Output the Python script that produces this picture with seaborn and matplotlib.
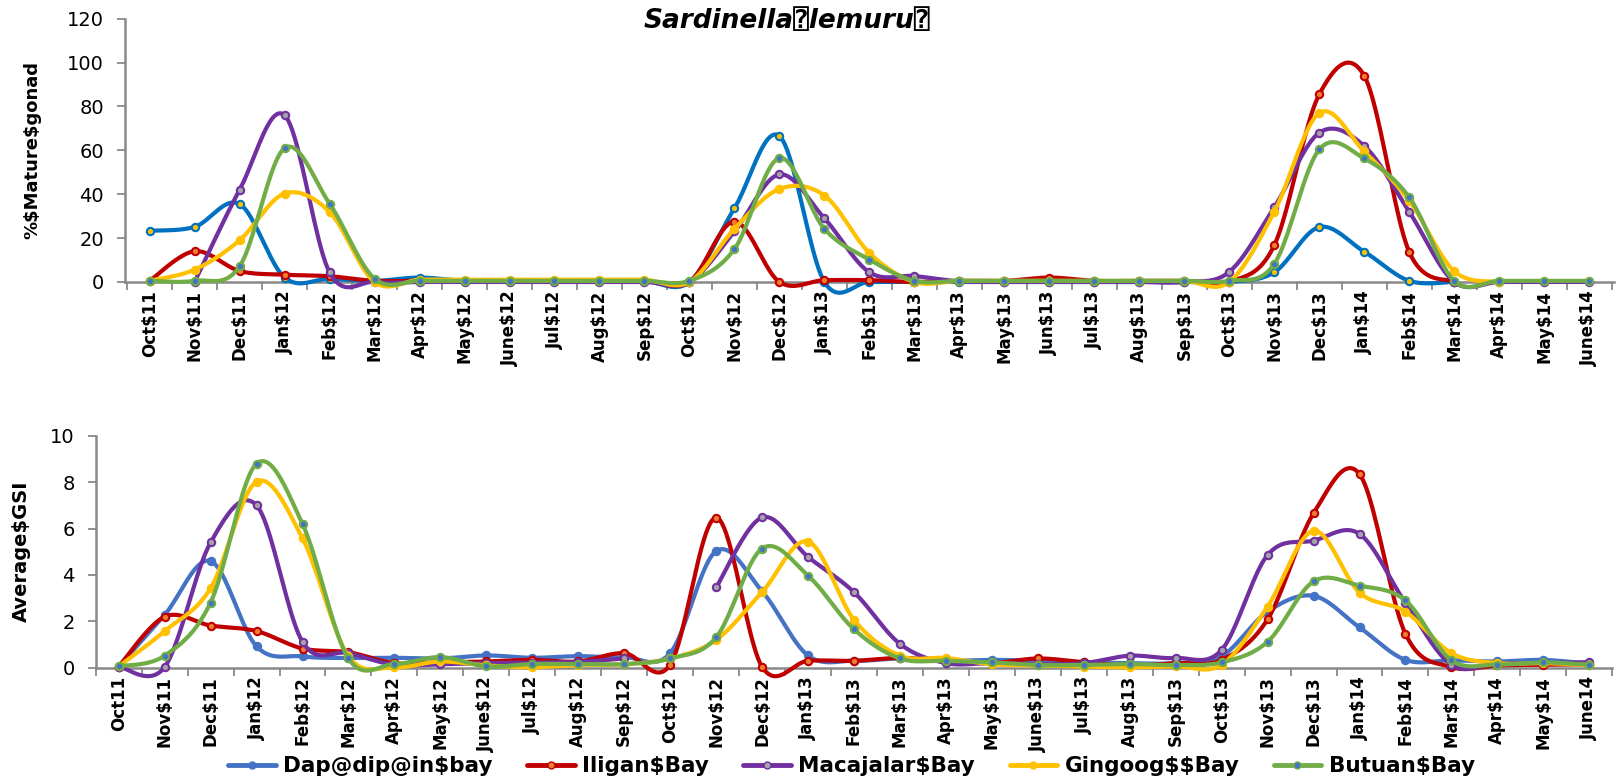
import numpy as np
import pandas as pd
import matplotlib
matplotlib.use("Agg")
import matplotlib.pyplot as plt
import seaborn as sns
from matplotlib.lines import Line2D

nan = np.nan

# ---------------- data ----------------
top_labels = ["Oct$11", "Nov$11", "Dec$11", "Jan$12", "Feb$12", "Mar$12", "Apr$12", "May$12",
              "June$12", "Jul$12", "Aug$12", "Sep$12", "Oct$12", "Nov$12", "Dec$12", "Jan$13",
              "Feb$13", "Mar$13", "Apr$13", "May$13", "Jun$13", "Jul$13", "Aug$13", "Sep$13",
              "Oct$13", "Nov$13", "Dec$13", "Jan$14", "Feb$14", "Mar$14", "Apr$14", "May$14", "June$14"]
bot_labels = ["Oct11", "Nov$11", "Dec$11", "Jan$12", "Feb$12", "Mar$12", "Apr$12", "May$12",
              "June$12", "Jul$12", "Aug$12", "Sep$12", "Oct$12", "Nov$12", "Dec$12", "Jan$13",
              "Feb$13", "Mar$13", "Apr$13", "May$13", "June$13", "Jul$13", "Aug$13", "Sep$13",
              "Oct$13", "Nov$13", "Dec$13", "Jan$14", "Feb$14", "Mar$14", "Apr$14", "May$14", "June14"]

series_names = ["Dap@dip@in$bay", "Iligan$Bay", "Macajalar$Bay", "Gingoog$$Bay", "Butuan$Bay"]

# % mature gonad
mature_dapdapin = [23.3, 25.1, 35.5, 2, 1.4, 0.5, 2, 0.5, 0.5, 0.5, 0.5, 0.5, 0, 33.6, 66.5, 0, 0, 0, 0, 0, 0,
                   0, 0, 0, 0, 4.4, 25, 13.8, 0.5, 0, nan, nan, nan]
mature_iligan = [0.5, 14, 5, 3.3, 2.6, 0.5, 0.5, 0.5, 0.5, 0.5, 0.5, 0.5, 0, 27.5, 0, 0.8, 0.8, 0, 0.5, 0.5, 2,
                 0.5, 0.5, 0.5, 0, 16.7, 85.5, 94, 13.7, 0, nan, nan, nan]
mature_macajalar = [nan, 0, 42, 76, 4.4, 0, 0, 0, 0, 0, 0, 0, 0, 23, 49, 29, 4.4, 2.7, 0.3, 0, 0, 0, 0, 0, 4.6,
                    34, 68, 62, 32, 0, 0, 0, 0]
mature_gingoog = [0.5, 5.6, 19, 40.3, 31.9, 0, 1, 1, 1, 1, 1, 1, 0, 24.2, 42.4, 39.4, 13.2, 0, 0.5, 0.5, 0.5,
                  0.5, 0.5, 0.5, 0, 32, 77, 59.5, 37, 4.9, 0, nan, nan]
mature_butuan = [0.5, 0.5, 7.1, 61, 35.7, 1.5, 0.5, 0.5, 0.5, 0.5, 0.5, 0.5, 0.5, 15, 56.5, 24.2, 10.2, 0.5,
                 0.5, 0.5, 0.5, 0.5, 0.5, 0.5, 0.5, 8.2, 60.4, 56.3, 38.6, 0.5, 0.5, 0.5, 0.5]

# average GSI
gsi_dapdapin = [0.05, 2.28, 4.6, 0.92, 0.49, 0.42, 0.43, 0.4, 0.53, 0.43, 0.5, 0.45, 0.63, 5.03, 3.3, 0.53,
                0.3, 0.4, 0.3, 0.34, 0.3, 0.24, 0.2, 0.2, 0.5, 2.42, 3.1, 1.74, 0.34, 0.32, 0.27, 0.34, 0.17]
gsi_iligan = [0.05, 2.2, 1.82, 1.58, 0.83, 0.67, 0.2, 0.23, 0.27, 0.34, 0.27, 0.63, 0.13, 6.47, 0.04, 0.3,
              0.3, 0.42, 0.3, 0.2, 0.4, 0.24, 0.1, 0.2, 0.34, 2.09, 6.66, 8.35, 1.46, 0.03, 0.1, 0.13, 0.15]
gsi_macajalar = [0.05, 0.03, 5.4, 7.0, 1.12, 0.63, 0.13, 0.15, 0.2, 0.22, 0.25, 0.4, nan, 3.46, 6.48, 4.78,
                 3.26, 1.03, 0.2, 0.2, 0.15, 0.2, 0.52, 0.42, 0.77, 4.86, 5.48, 5.77, 2.8, 0.13, 0.18, 0.2, 0.24]
gsi_gingoog = [0.06, 1.58, 3.43, 8.02, 5.58, 0.5, 0.02, 0.27, 0.1, 0.02, 0.12, 0.15, 0.4, 1.2, 3.26, 5.44,
               2.07, 0.52, 0.42, 0.15, 0.1, 0.05, 0.02, 0.06, 0.13, 2.64, 5.9, 3.24, 2.42, 0.63, 0.2, 0.2, 0.12]
gsi_butuan = [0.06, 0.52, 2.81, 8.8, 6.2, 0.4, 0.16, 0.46, 0.06, 0.16, 0.16, 0.16, 0.4, 1.31, 5.14, 3.97,
              1.66, 0.4, 0.3, 0.23, 0.12, 0.12, 0.16, 0.12, 0.23, 1.12, 3.72, 3.54, 2.9, 0.32, 0.14, 0.23, 0.13]

mature_all = [mature_dapdapin, mature_iligan, mature_macajalar, mature_gingoog, mature_butuan]
gsi_all = [gsi_dapdapin, gsi_iligan, gsi_macajalar, gsi_gingoog, gsi_butuan]

# ---------------- style ----------------
top_line = ["#0070C0", "#C00000", "#7030A0", "#FFC000", "#70AD47"]
top_face = ["#FFC000", "#ED7D31", "#A5A5A5", "#FFC000", "#4472C4"]
bot_line = ["#4472C4", "#C00000", "#7030A0", "#FFC000", "#70AD47"]
bot_face = ["#4472C4", "#ED7D31", "#A5A5A5", "#FFC000", "#4472C4"]
AX_GREY = "#898989"

sns.set_theme(style="white")
plt.rcParams["font.family"] = ["DejaVu Sans", "DejaVu Sans Mono"]
plt.rcParams["text.color"] = "black"
plt.rcParams["axes.labelcolor"] = "black"
plt.rcParams["xtick.color"] = "black"
plt.rcParams["ytick.color"] = "black"


def esc(s):
    return s.replace("$", r"\$")


def smooth_runs(vals, n=24):
    """Excel-like smoothed (Catmull-Rom Bezier) rendering path for a series."""
    v = np.asarray(vals, dtype=float)
    xs, ys, runs = [], [], []
    idx = np.arange(len(v))
    finite = np.isfinite(v)
    run_id = 0
    i = 0
    while i < len(v):
        if not finite[i]:
            i += 1
            continue
        j = i
        while j + 1 < len(v) and finite[j + 1]:
            j += 1
        px = idx[i:j + 1].astype(float)
        py = v[i:j + 1]
        m = len(px)
        for k in range(m - 1):
            p0 = np.array([px[k - 1], py[k - 1]]) if k > 0 else np.array([px[k], py[k]])
            p1 = np.array([px[k], py[k]])
            p2 = np.array([px[k + 1], py[k + 1]])
            p3 = np.array([px[k + 2], py[k + 2]]) if k + 2 < m else p2
            c1 = p1 + (p2 - p0) / 6.0
            c2 = p2 - (p3 - p1) / 6.0
            t = np.linspace(0, 1, n)[:, None]
            b = ((1 - t) ** 3) * p1 + 3 * ((1 - t) ** 2) * t * c1 + 3 * (1 - t) * t ** 2 * c2 + t ** 3 * p2
            if k > 0:
                b = b[1:]
            xs.extend(b[:, 0]); ys.extend(b[:, 1]); runs.extend([run_id] * len(b))
        run_id += 1
        i = j + 1
    return pd.DataFrame({"x": xs, "y": ys, "run": runs})


def draw_panel(ax, data, labels, lcol, fcol, ylim, yticks, xlim, ylabel, ylab_x, ylab_size):
    z = 3
    for vals, lc, fc in zip(data, lcol, fcol):
        path = smooth_runs(vals)
        if len(path):
            sns.lineplot(data=path, x="x", y="y", units="run", estimator=None, sort=False,
                         color=lc, lw=3.0, ax=ax, zorder=z, legend=False)
        pts = pd.DataFrame({"x": np.arange(len(vals)), "y": vals}).dropna()
        sns.scatterplot(data=pts, x="x", y="y", color=fc, edgecolor=lc, linewidth=1.5,
                        s=28, ax=ax, zorder=z + 1, legend=False)
        z += 2
    for art in ax.lines + ax.collections:
        art.set_clip_on(False)
    ax.set_xlim(*xlim)
    ax.set_ylim(*ylim)
    ax.set_yticks(yticks)
    ax.set_yticklabels([str(t) for t in yticks], fontsize=14, color="black")
    ax.set_xticks(np.arange(len(labels)))
    ax.set_xticklabels([esc(s) for s in labels], rotation=90, fontsize=12, fontweight="bold",
                       color="black")
    ax.set_xticks(np.arange(len(labels) + 1) - 0.5, minor=True)
    ax.tick_params(axis="x", which="major", length=0, pad=6)
    ax.tick_params(axis="x", which="minor", length=6, width=1.3, color=AX_GREY, direction="out", bottom=True)
    ax.tick_params(axis="y", which="major", length=6, width=1.3, color=AX_GREY, direction="out", left=True,
                   pad=9)
    for s in ["top", "right"]:
        ax.spines[s].set_visible(False)
    for s in ["left", "bottom"]:
        ax.spines[s].set_color(AX_GREY)
        ax.spines[s].set_linewidth(1.8)
        ax.spines[s].set_zorder(2)
    ax.set_xlabel("")
    ax.set_ylabel(esc(ylabel), fontsize=ylab_size, fontweight="bold", color="black")
    ax.yaxis.set_label_coords(ylab_x, 0.5)
    ax.grid(False)


fig = plt.figure(figsize=(16.22, 7.81), dpi=100)
ax1 = fig.add_axes([0.077, 0.639, 0.918, 0.337])
ax2 = fig.add_axes([0.059, 0.145, 0.935, 0.297])

draw_panel(ax1, mature_all, top_labels, top_line, top_face, (0, 120), [0, 20, 40, 60, 80, 100, 120],
           (-0.55, 32.55), "%$Mature$gonad", -0.056, 13)
draw_panel(ax2, gsi_all, bot_labels, bot_line, bot_face, (0, 10), [0, 2, 4, 6, 8, 10],
           (-0.46, 32.48), "Average$GSI", -0.043, 14)

fig.text(0.485, 0.973, "Sardinella\u2370lemuru\u2370", ha="center", va="center", fontsize=19,
         fontweight="bold", fontstyle="italic", color="black")

handles = [Line2D([0], [0], color=bot_line[i], lw=3.5, marker="o", markersize=5,
                  markerfacecolor=bot_face[i], markeredgecolor=bot_line[i]) for i in range(5)]
fig.legend(handles, [esc(s) for s in series_names], loc="center", bbox_to_anchor=(0.525, 0.019),
           ncol=5, frameon=False, handlelength=2.2, columnspacing=1.6, handletextpad=0.35,
           prop={"size": 15.5, "weight": "bold"})

fig.savefig("out.png", dpi=100)
